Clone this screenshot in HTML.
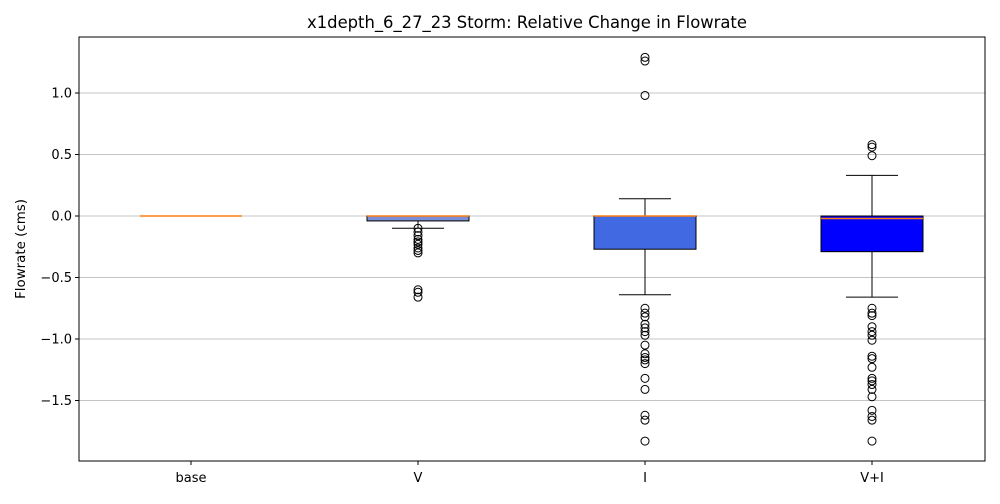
<!DOCTYPE html>
<html><head><meta charset="utf-8"><style>
body{margin:0;background:#fff;font-family:"DejaVu Sans","Liberation Sans",sans-serif}
</style></head><body>
<svg id="chart" width="1000" height="500" xmlns="http://www.w3.org/2000/svg" font-family="DejaVu Sans, Liberation Sans, sans-serif">
<rect width="1000" height="500" fill="#fff"/>
<text x="527" y="28" text-anchor="middle" font-size="16.4">x1depth_6_27_23 Storm: Relative Change in Flowrate</text>
<text transform="translate(25,249) rotate(-90)" text-anchor="middle" font-size="13.4">Flowrate (cms)</text>
<g id="grid"></g><g id="marks"></g><g id="axes"></g>
</svg>
<script>
const categories=["base","V","I","V+I"];
const q1s=[0,-0.04,-0.27,-0.29];
const medians=[0,0,0,-0.02];
const q3s=[0,0,0,0];
const whiskLo=[0,-0.1,-0.64,-0.66];
const whiskHi=[0,0,0.14,0.33];
const boxColors=["#4169e1","#7b8fd6","#4169e1","#0000ff"];
const outliersBase=[];
const outliersV=[-0.1,-0.13,-0.16,-0.19,-0.21,-0.23,-0.26,-0.28,-0.3,-0.6,-0.62,-0.66];
const outliersI=[1.29,1.26,0.98,-0.75,-0.79,-0.82,-0.88,-0.91,-0.94,-0.97,-1.05,-1.12,-1.15,-1.17,-1.2,-1.32,-1.41,-1.62,-1.66,-1.83];
const outliersVI=[0.58,0.56,0.49,-0.75,-0.79,-0.81,-0.9,-0.94,-0.97,-1.01,-1.14,-1.16,-1.23,-1.32,-1.34,-1.37,-1.41,-1.47,-1.58,-1.63,-1.66,-1.83];
const yTicks=[1.0,0.5,0.0,-0.5,-1.0,-1.5];
const yTickLabels=["1.0","0.5","0.0","\u22120.5","\u22121.0","\u22121.5"];
const outliers=[outliersBase,outliersV,outliersI,outliersVI];

const L=79,R=985,T=37,B=461;
const y=v=>216-v*123;
const x=i=>191+i*227;
const NS="http://www.w3.org/2000/svg";
function mk(p,tag,a){const e=document.createElementNS(NS,tag);for(const k in a)e.setAttribute(k,a[k]);p.appendChild(e);return e;}
const grid=document.getElementById('grid'),marks=document.getElementById('marks'),axes=document.getElementById('axes');
yTicks.forEach((v,i)=>{
  const g=mk(grid,'line',{x1:L,x2:R,y1:y(v),y2:y(v),stroke:'#b0b0b0','stroke-width':0.8});
  
  
  mk(axes,'line',{x1:L-4,x2:L,y1:y(v),y2:y(v),stroke:'#000'});
  const t=mk(axes,'text',{x:L-7,y:y(v)+4.5,'text-anchor':'end','font-size':13});
  t.textContent=yTickLabels[i];
  
  
});
const hw=51,cw=26;
categories.forEach((c,i)=>{
  const cx=x(i);
  const g=mk(marks,'g',{});
  
  
  mk(g,'line',{x1:cx,x2:cx,y1:y(q3s[i]),y2:y(whiskHi[i]),stroke:'#000'});
  mk(g,'line',{x1:cx,x2:cx,y1:y(q1s[i]),y2:y(whiskLo[i]),stroke:'#000'});
  mk(g,'line',{x1:cx-cw,x2:cx+cw,y1:y(whiskHi[i]),y2:y(whiskHi[i]),stroke:'#000'});
  mk(g,'line',{x1:cx-cw,x2:cx+cw,y1:y(whiskLo[i]),y2:y(whiskLo[i]),stroke:'#000'});
  const h=y(q1s[i])-y(q3s[i]);
  if(h>0.5) mk(g,'rect',{x:cx-hw,y:y(q3s[i]),width:2*hw,height:h,fill:boxColors[i],stroke:'#000','stroke-width':1});
  mk(g,'line',{x1:cx-hw,x2:cx+hw,y1:y(medians[i]),y2:y(medians[i]),stroke:'#ff7f0e','stroke-width':1.5});
  outliers[i].forEach(v=>{
    const o=mk(g,'circle',{cx:cx,cy:y(v),r:4,fill:'none',stroke:'#000'});
    
    
  });
  mk(axes,'line',{x1:cx,x2:cx,y1:B,y2:B+4,stroke:'#000'});
  const t=mk(axes,'text',{x:cx,y:B+21,'text-anchor':'middle','font-size':13});
  t.textContent=c;
  
  
});
const f=mk(axes,'rect',{x:L,y:T,width:R-L,height:B-T,fill:'none',stroke:'#000','stroke-width':1});


</script>
</body></html>
